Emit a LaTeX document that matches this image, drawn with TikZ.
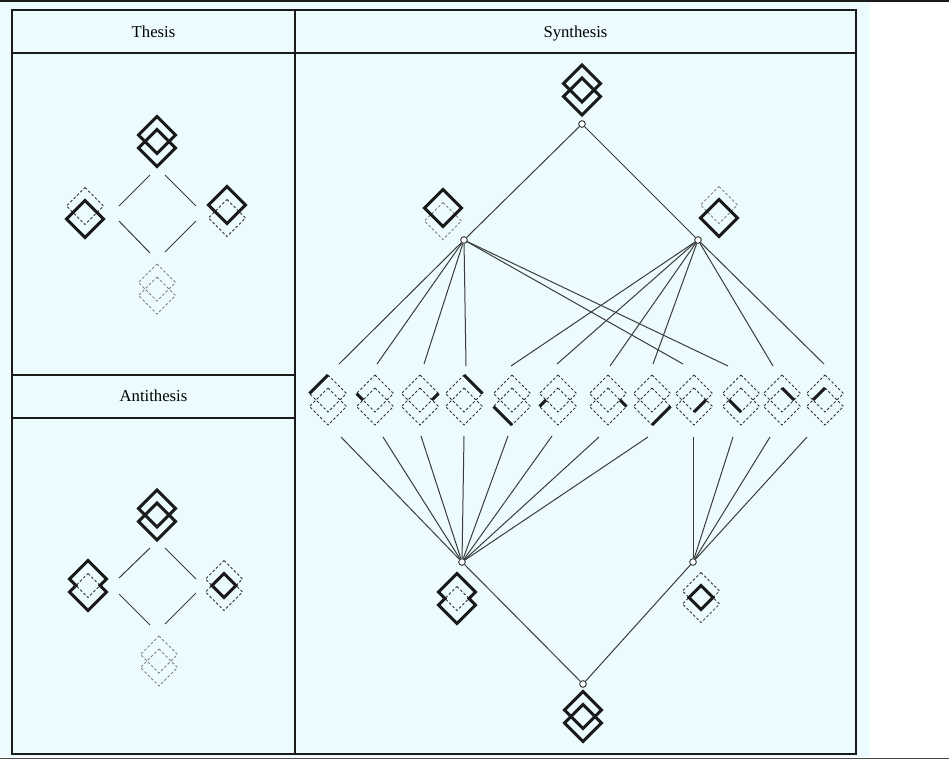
\documentclass[tikz,border=0pt]{standalone}
\usepackage{fontspec}
\setmainfont{Liberation Serif}
\definecolor{bgc}{RGB}{235,251,254}
\definecolor{ink}{RGB}{26,26,26}
\tikzset{
  thk/.style={line width=2.2pt, draw=ink},
  dsh/.style={line width=0.55pt, draw=ink!90, dash pattern=on 2pt off 1.5pt},
  gdsh/.style={line width=0.55pt, draw=ink!55, dash pattern=on 2pt off 1.5pt},
  conn/.style={line width=0.75pt, draw=ink!85},
  tabline/.style={line width=1.5pt, draw=ink},
  cnode/.style={circle, draw=ink, fill=white, line width=0.6pt, inner sep=0pt, minimum size=5pt},
  hdr/.style={font=\fontsize{12.5}{14}\selectfont, text=black, inner sep=0pt, anchor=base},
}
\newcommand\icUD[1]{\draw[#1] (0,-25) -- (18.5,-6.5) -- (0,12) -- (-18.5,-6.5) -- cycle;}
\newcommand\icLD[1]{\draw[#1] (0,-12) -- (18.5,6.5) -- (0,25) -- (-18.5,6.5) -- cycle;}
\newcommand\icOUT{\draw[thk] (-12,0) -- (-18.5,-6.5) -- (0,-25) -- (18.5,-6.5) -- (12,0) -- (18.5,6.5) -- (0,25) -- (-18.5,6.5) -- cycle;}
\newcommand\icIN{\draw[thk] (-12,0) -- (0,12) -- (12,0) -- (0,-12) -- cycle;}
\newcommand\myicon[3]{\begin{scope}[shift={(#1,#2)}]#3\end{scope}}
\begin{document}
\begin{tikzpicture}[x=0.75pt,y=-0.75pt]
\useasboundingbox (0,0) rectangle (949,760);
% background
\fill[bgc] (0,2) rectangle (870,757);
\draw[line width=1.5pt, ink] (0,1) -- (949,1);
\draw[line width=0.9pt, ink!80] (0,758.5) -- (949,758.5);
% table
\draw[tabline] (12,10) rectangle (856,754);
\draw[tabline] (295,10) -- (295,754);
\draw[tabline] (12,53) -- (856,53);
\draw[tabline] (12,375) -- (295,375);
\draw[tabline] (12,418) -- (295,418);
\node[hdr] (hthesis) at (153.5,37.5) {Thesis};
\node[hdr] (hsynth) at (575.5,37.5) {Synthesis};
\node[hdr] (hanti) at (153.5,401.5) {Antithesis};

% ---------------- Thesis ----------------
\myicon{157}{141.5}{\icUD{thk}\icLD{thk}}
\myicon{85}{212.5}{\icUD{dsh}\icLD{thk}}
\myicon{227}{211.5}{\icLD{dsh}\icUD{thk}}
\myicon{157}{289}{\icUD{gdsh}\icLD{gdsh}}
\coordinate (ta1) at (150,175); \coordinate (ta2) at (119,206);
\coordinate (tb1) at (165,175); \coordinate (tb2) at (196,206);
\coordinate (tc1) at (119,221); \coordinate (tc2) at (150,253);
\coordinate (td1) at (165,252); \coordinate (td2) at (196,221);
\draw[conn] (ta1) -- (ta2);
\draw[conn] (tb1) -- (tb2);
\draw[conn] (tc1) -- (tc2);
\draw[conn] (td1) -- (td2);

% ---------------- Antithesis ----------------
\myicon{157}{515}{\icUD{thk}\icLD{thk}}
\myicon{88}{585.5}{\icUD{dsh}\icLD{dsh}\icOUT}
\myicon{224}{585.5}{\icUD{dsh}\icLD{dsh}\icIN}
\myicon{159}{661}{\icUD{gdsh}\icLD{gdsh}}
\coordinate (aa1) at (150,548); \coordinate (aa2) at (119,578);
\coordinate (ab1) at (165,548); \coordinate (ab2) at (196,579);
\coordinate (ac1) at (119,594); \coordinate (ac2) at (150,625);
\coordinate (ad1) at (165,624); \coordinate (ad2) at (196,593);
\draw[conn] (aa1) -- (aa2);
\draw[conn] (ab1) -- (ab2);
\draw[conn] (ac1) -- (ac2);
\draw[conn] (ad1) -- (ad2);

% ---------------- Synthesis ----------------
\myicon{582}{90}{\icUD{thk}\icLD{thk}}
\myicon{443}{214.5}{\icLD{gdsh}\icUD{thk}}
\myicon{719}{211.5}{\icUD{gdsh}\icLD{thk}}
\myicon{457}{598.5}{\icUD{dsh}\icLD{dsh}\icOUT}
\myicon{701}{597.5}{\icUD{dsh}\icLD{dsh}\icIN}
\myicon{583}{716.5}{\icUD{thk}\icLD{thk}}

% middle row
\myicon{328}{400}{\icUD{dsh}\icLD{dsh}\draw[thk] (-18.5,-6.5) -- (0,-25);}
\myicon{375}{400}{\icUD{dsh}\icLD{dsh}\draw[thk] (-18.5,-6.5) -- (-12,0);}
\myicon{420}{400}{\icUD{dsh}\icLD{dsh}\draw[thk] (18.5,-6.5) -- (12,0);}
\myicon{464}{400}{\icUD{dsh}\icLD{dsh}\draw[thk] (0,-25) -- (18.5,-6.5);}
\myicon{512}{400}{\icUD{dsh}\icLD{dsh}\draw[thk] (-18.5,6.5) -- (0,25);}
\myicon{558}{400}{\icUD{dsh}\icLD{dsh}\draw[thk] (-18.5,6.5) -- (-12,0);}
\myicon{608}{400}{\icUD{dsh}\icLD{dsh}\draw[thk] (12,0) -- (18.5,6.5);}
\myicon{652}{400}{\icUD{dsh}\icLD{dsh}\draw[thk] (0,25) -- (18.5,6.5);}
\myicon{694}{400}{\icUD{dsh}\icLD{dsh}\draw[thk] (0,12) -- (12,0);}
\myicon{741}{400}{\icUD{dsh}\icLD{dsh}\draw[thk] (-12,0) -- (0,12);}
\myicon{782}{400}{\icUD{dsh}\icLD{dsh}\draw[thk] (0,-12) -- (12,0);}
\myicon{825}{400}{\icUD{dsh}\icLD{dsh}\draw[thk] (-12,0) -- (0,-12);}

% connector ends near the row
\coordinate (u1) at (339,364);  \coordinate (u2) at (377,364);
\coordinate (u3) at (424,364);  \coordinate (u4) at (466,366);
\coordinate (u5) at (511,366);  \coordinate (u6) at (557,364);
\coordinate (u7) at (610,366);  \coordinate (u8) at (653,364);
\coordinate (u9) at (683,364);  \coordinate (u10) at (728,366);
\coordinate (u11) at (773,366); \coordinate (u12) at (824,364);
\coordinate (d1) at (341,437);  \coordinate (d2) at (383,437);
\coordinate (d3) at (421,436);  \coordinate (d4) at (464,436);
\coordinate (d5) at (508,436);  \coordinate (d6) at (552,436);
\coordinate (d7) at (599,437);  \coordinate (d8) at (648,437);
\coordinate (d9) at (693,437);  \coordinate (d10) at (733,437);
\coordinate (d11) at (770,437); \coordinate (d12) at (807,437);

% lattice nodes
\node[cnode] (T) at (582,124) {};
\node[cnode] (L) at (464,240) {};
\node[cnode] (R) at (698,240) {};
\node[cnode] (BL) at (462,562) {};
\node[cnode] (BR) at (693,562) {};
\node[cnode] (B) at (583,684) {};

\draw[conn] (T) -- (L);
\draw[conn] (T) -- (R);
\draw[conn] (B) -- (BL);
\draw[conn] (B) -- (BR);
\foreach \k in {1,2,3,4,9,10} {\draw[conn] (L) -- (u\k);}
\foreach \k in {5,6,7,8,11,12} {\draw[conn] (R) -- (u\k);}
\foreach \k in {1,...,8} {\draw[conn] (BL) -- (d\k);}
\foreach \k in {9,...,12} {\draw[conn] (BR) -- (d\k);}
\end{tikzpicture}
\end{document}
